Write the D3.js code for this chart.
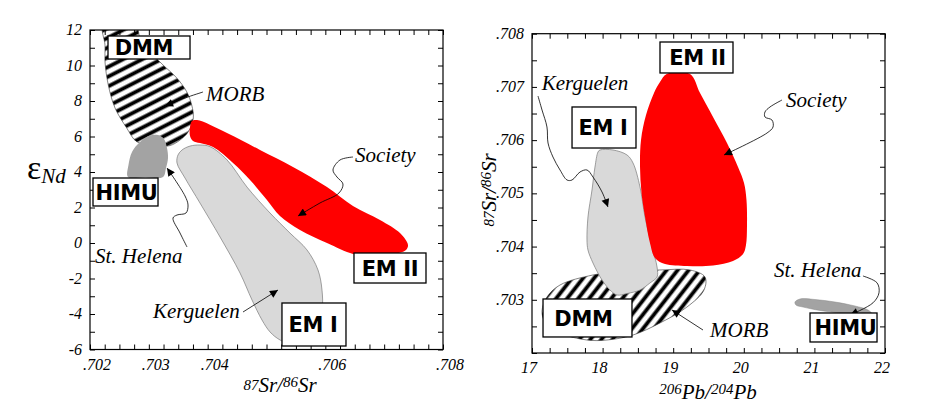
<!DOCTYPE html>
<html><head><meta charset="utf-8">
<script src="https://cdn.jsdelivr.net/npm/d3@7"></script>
<style>body{margin:0;background:#fff}</style>
</head><body><svg id="c" width="937" height="409"></svg>
<script>
// ---------------- data ----------------
const leftXTicks = [0.702, 0.703, 0.704, 0.706, 0.708];
const leftYTicks = [-6, -4, -2, 0, 2, 4, 6, 8, 10, 12];
const rightXTicks = [17, 18, 19, 20, 21, 22];
const rightYTicks = [0.703, 0.704, 0.705, 0.706, 0.707, 0.708];

// Left panel: 87Sr/86Sr vs eNd
const leftMORB = [[0.702221,12.23],[0.702255,11.15],[0.702255,10.21],[0.702311,8.90],[0.702425,7.61],[0.702624,6.48],[0.702794,5.71],[0.703134,5.46],[0.703360,5.49],[0.703530,5.80],[0.703671,6.27],[0.703756,7.04],[0.703729,7.77],[0.703644,8.52],[0.703474,9.30],[0.703241,10.03],[0.703020,10.78],[0.702850,11.55],[0.702794,12.11],[0.702510,12.23]];
const leftHIMU = [[0.702646,3.72],[0.702654,4.39],[0.702714,5.13],[0.702850,5.69],[0.703020,6.06],[0.703156,6.08],[0.703258,5.86],[0.703309,5.35],[0.703326,4.79],[0.703292,4.23],[0.703241,3.72],[0.702940,3.70]];
const leftSociety = [[0.703700,6.54],[0.703734,6.87],[0.703819,6.93],[0.704329,6.20],[0.704890,5.24],[0.705450,4.28],[0.706028,3.15],[0.706470,2.08],[0.706929,1.30],[0.707269,0.56],[0.707405,-0.11],[0.707371,-0.39],[0.707150,-0.62],[0.706708,-0.73],[0.706470,-0.62],[0.706028,0.00],[0.705569,0.73],[0.705229,1.52],[0.705008,2.42],[0.704720,3.55],[0.704431,4.51],[0.704091,5.41],[0.703870,5.63],[0.703751,5.75],[0.703700,6.03]];
const leftKerguelen = [[0.703496,4.96],[0.703564,5.24],[0.703700,5.46],[0.703870,5.52],[0.704040,5.43],[0.704329,4.68],[0.704669,3.15],[0.705060,1.69],[0.705399,0.56],[0.705688,-0.39],[0.705875,-1.52],[0.705943,-2.65],[0.705943,-3.77],[0.705824,-4.90],[0.705484,-5.75],[0.705229,-5.46],[0.705060,-5.01],[0.704924,-4.34],[0.704754,-3.21],[0.704550,-1.69],[0.704210,0.34],[0.703870,2.25],[0.703615,3.66],[0.703479,4.51]];

// Right panel: 206Pb/204Pb vs 87Sr/86Sr
const rightMORB = [[17.142,0.702789],[17.212,0.703052],[17.397,0.703278],[17.864,0.703466],[18.317,0.703541],[18.813,0.703560],[19.238,0.703560],[19.450,0.703428],[19.436,0.703184],[19.195,0.702864],[18.813,0.702564],[18.431,0.702338],[18.062,0.702244],[17.779,0.702244],[17.397,0.702376],[17.184,0.702583]];
const rightSociety = [[18.908,0.707243],[19.238,0.707243],[19.380,0.706886],[19.564,0.706435],[19.762,0.705946],[19.918,0.705495],[20.003,0.705195],[20.038,0.704875],[20.045,0.704368],[20.031,0.704030],[19.989,0.703860],[19.847,0.703729],[19.564,0.703644],[19.195,0.703635],[18.884,0.703672],[18.742,0.703785],[18.671,0.704067],[18.601,0.704556],[18.551,0.705007],[18.530,0.705495],[18.544,0.706003],[18.615,0.706472],[18.728,0.706886],[18.813,0.707092]];
const rightKerguelen = [[17.963,0.705815],[18.147,0.705815],[18.346,0.705721],[18.431,0.705570],[18.530,0.705119],[18.601,0.704556],[18.700,0.703992],[18.771,0.703616],[18.771,0.703428],[18.671,0.703316],[18.530,0.703184],[18.346,0.703118],[18.204,0.703090],[18.105,0.703184],[17.992,0.703372],[17.864,0.703691],[17.793,0.703935],[17.779,0.704123],[17.793,0.704556],[17.850,0.705063],[17.892,0.705495],[17.935,0.705777]];
const rightHIMU = [[20.725,0.702958],[20.796,0.703015],[21.008,0.703005],[21.292,0.702958],[21.575,0.702883],[21.759,0.702808],[21.816,0.702733],[21.646,0.702714],[21.363,0.702752],[21.079,0.702799],[20.839,0.702864],[20.739,0.702902]];

// end-member label boxes (data coords)
const leftBoxes = [
  {t:"DMM",  x0:0.702306, x1:0.703700, y0:11.662, y1:10.366, dx:-5},
  {t:"HIMU", x0:0.702051, x1:0.703156, y0:3.662,  y1:2.085,  dx:1},
  {t:"EM II",x0:0.706487, x1:0.707711, y0:-0.563, y1:-2.254, dx:0},
  {t:"EM I", x0:0.705263, x1:0.706351, y0:-3.380, y1:-5.803, dx:-1}];
const rightBoxes = [
  {t:"EM II",x0:18.813, x1:19.847, y0:0.707844, y1:0.707262, dx:1},
  {t:"EM I", x0:17.567, x1:18.473, y0:0.706623, y1:0.705852, dx:-1},
  {t:"DMM",  x0:17.156, x1:18.416, y0:0.703015, y1:0.702301, dx:-4},
  {t:"HIMU", x0:20.938, x1:21.887, y0:0.702752, y1:0.702207, dx:2}];

// italic annotations and leader lines (data coords)
const leftNotes = [
  {t:"MORB", x:0.703972, y:8.017},
  {t:"Society", x:0.706504, y:4.563},
  {t:"St. Helena", x:0.702085, y:-1.127},
  {t:"Kerguelen", x:0.703071, y:-4.225}];
const leftLeaders = [
  [[0.703921,8.507],[0.703615,8.17],[0.703275,7.72]],
  [[0.706470,4.845],[0.706249,4.676],[0.706130,4.113],[0.706198,3.718],[0.706300,3.324],[0.706232,2.817],[0.705909,2.254],[0.705535,1.521]],
  [[0.703649,-0.225],[0.703530,0.563],[0.703411,1.408],[0.703479,1.577],[0.703632,1.690],[0.703666,2.141],[0.703615,2.648],[0.703309,4.225]],
  [[0.704601,-3.887],[0.705195,-2.648]]];
const rightNotes = [
  {t:"Kerguelen", x:17.137, y:0.706942},
  {t:"Society", x:20.598, y:0.706623},
  {t:"MORB", x:19.521, y:0.702301},
  {t:"St. Helena", x:20.428, y:0.703428}];
const rightLeaders = [
  [[17.085,0.706829],[17.142,0.706566],[17.212,0.706247],[17.227,0.705946],[17.297,0.705683],[17.397,0.705439],[17.496,0.705251],[17.567,0.705251],[17.680,0.705401],[17.779,0.705439],[17.864,0.705306],[17.992,0.705025],[18.076,0.704743]],
  [[20.541,0.706754],[20.371,0.706623],[20.300,0.706529],[20.300,0.706435],[20.399,0.706378],[20.414,0.706247],[20.329,0.706134],[19.720,0.705721]],
  [[19.422,0.702432],[18.983,0.702808]],
  [[21.688,0.703447],[21.887,0.703319],[21.915,0.703131],[21.830,0.702943],[21.504,0.702714]]];

// ---------------- drawing ----------------
const SERIF = '"Liberation Serif"';
const BOLD = '"DejaVu Sans"';
const svg = d3.select("#c");
const defs = svg.append("defs");
function it(sel){ return sel.style("font-family", SERIF).style("font-style","italic"); }
function hatch(id, angle){
  const p = defs.append("pattern").attr("id", id).attr("patternUnits","userSpaceOnUse")
    .attr("width", 10).attr("height", 8.7).attr("patternTransform", `rotate(${angle})`);
  p.append("rect").attr("width",10).attr("height",8.7).attr("fill","#fff");
  p.append("rect").attr("y",2.4).attr("width",10).attr("height",3.8).attr("fill","#000");
}
hatch("hatchL", -27);
hatch("hatchR", -52);
defs.append("marker").attr("id","arr").attr("viewBox","0 0 10 10").attr("refX",10).attr("refY",5)
  .attr("markerUnits","userSpaceOnUse").attr("markerWidth",10).attr("markerHeight",8).attr("orient","auto")
  .append("path").attr("d","M0,0L10,5L0,10z").attr("fill","#000");

function panel(id, xs, ys, xMinor, yMinor, xLabels, yLabels, xFmt, yFmt, xLabDx, xLabDy, shapes, boxes, notes, leaders){
  const g = svg.append("g");
  const [X0,X1] = xs.range(), [Y0,Y1] = ys.range();
  defs.append("clipPath").attr("id","clip"+id).append("rect")
    .attr("x",X0).attr("y",Y1).attr("width",X1-X0).attr("height",Y0-Y1);
  const area = g.append("g").attr("clip-path",`url(#clip${id})`);
  const shp = d3.line().x(d=>xs(d[0])).y(d=>ys(d[1])).curve(d3.curveCatmullRomClosed.alpha(0.5));
  shapes.forEach(s=>{
    area.append("path").attr("d", shp(s.data)).attr("fill", s.fill)
      .attr("stroke", s.stroke || "none").attr("stroke-width", s.sw || 0.6);
  });
  const ld = d3.line().x(d=>xs(d[0])).y(d=>ys(d[1])).curve(d3.curveCatmullRom.alpha(0.5));
  leaders.forEach(l=>{
    g.append("path").attr("d", ld(l)).attr("fill","none").attr("stroke","#000")
      .attr("stroke-width",0.8).attr("marker-end","url(#arr)");
  });
  g.append("rect").attr("x",X0).attr("y",Y1).attr("width",X1-X0).attr("height",Y0-Y1)
    .attr("fill","none").attr("stroke","#000").attr("stroke-width",1.2);
  const tk = 5;
  g.append("g").attr("transform",`translate(0,${Y0})`).call(d3.axisBottom(xs).tickValues(xMinor).tickSize(-tk).tickFormat(""));
  g.append("g").attr("transform",`translate(0,${Y1})`).call(d3.axisTop(xs).tickValues(xMinor).tickSize(-tk).tickFormat(""));
  g.append("g").attr("transform",`translate(${X0},0)`).call(d3.axisLeft(ys).tickValues(yMinor).tickSize(-tk).tickFormat(""));
  g.append("g").attr("transform",`translate(${X1},0)`).call(d3.axisRight(ys).tickValues(yMinor).tickSize(-tk).tickFormat(""));
  g.selectAll(".domain").remove();
  g.selectAll(".tick line").attr("stroke","#000").attr("stroke-width",1);
  it(g.selectAll(".xl").data(xLabels).join("text").attr("x",d=>xs(d)+xLabDx).attr("y",Y0+xLabDy)
    .attr("text-anchor","middle").attr("font-size",16).text(xFmt));
  it(g.selectAll(".yl").data(yLabels).join("text").attr("x",X0-8).attr("y",d=>ys(d)+5)
    .attr("text-anchor","end").attr("font-size",16).text(yFmt));
  notes.forEach(n=>{
    it(g.append("text").attr("x",xs(n.x)).attr("y",ys(n.y)).attr("font-size",21).text(n.t));
  });
  boxes.forEach(b=>{
    const bx0 = xs(b.x0), bx1 = xs(b.x1), by0 = ys(b.y0), by1 = ys(b.y1);
    g.append("rect").attr("x",bx0).attr("y",by0).attr("width",bx1-bx0).attr("height",by1-by0)
      .attr("fill","#fff").attr("stroke","#000").attr("stroke-width",1.3);
    g.append("text").style("font-family",BOLD).style("font-weight","bold")
      .attr("x",(bx0+bx1)/2 + b.dx).attr("y",(by0+by1)/2 + 7.6)
      .attr("text-anchor","middle").attr("font-size",21).attr("letter-spacing",-0.3).text(b.t);
  });
  return g;
}

const strip0 = s => s.replace(/^0\./, ".");
const xL = d3.scaleLinear().domain([0.702, 0.708]).range([90, 443]);
const yL = d3.scaleLinear().domain([-6, 12]).range([349.5, 30]);
panel("L", xL, yL,
  d3.range(0, 25).map(i => 0.702 + i*0.00025), d3.range(-6, 13),
  leftXTicks, leftYTicks, d => strip0(d3.format(".3f")(d)), d => d3.format("d")(d).replace("−","-"),
  7, 20,
  [{data:leftMORB, fill:"url(#hatchL)", stroke:"#333", sw:0.6},
   {data:leftSociety, fill:"#ff0000"},
   {data:leftKerguelen, fill:"#d9d9d9", stroke:"#888", sw:0.8},
   {data:leftHIMU, fill:"#a3a3a3"}],
  leftBoxes, leftNotes, leftLeaders);

const xR = d3.scaleLinear().domain([17, 22]).range([532, 885]);
const yR = d3.scaleLinear().domain([0.702, 0.708]).range([353, 33.7]);
panel("R", xR, yR,
  d3.range(0, 21).map(i => 17 + i*0.25), d3.range(0, 13).map(i => 0.702 + i*0.0005),
  rightXTicks, rightYTicks, d => d3.format("d")(d), d => strip0(d3.format(".3f")(d)),
  -3, 20,
  [{data:rightMORB, fill:"url(#hatchR)", stroke:"#333", sw:0.6},
   {data:rightKerguelen, fill:"#d9d9d9", stroke:"#888", sw:0.8},
   {data:rightSociety, fill:"#ff0000"},
   {data:rightHIMU, fill:"#a3a3a3", stroke:"#888", sw:0.5}],
  rightBoxes, rightNotes, rightLeaders);

// axis titles
const tL = it(svg.append("text").attr("x", 280).attr("y", 392).attr("text-anchor","middle").attr("font-size",21));
tL.append("tspan").attr("font-size",15).attr("dy",-2).text("87");
tL.append("tspan").attr("dy",2).text("Sr/");
tL.append("tspan").attr("font-size",15).attr("dy",-5).text("86");
tL.append("tspan").attr("dy",5).text("Sr");

const yt = svg.append("text").attr("x", 27).attr("y", 179).style("font-family", SERIF);
yt.append("tspan").attr("font-size",34).text("ε");
yt.append("tspan").attr("font-size",21).style("font-style","italic").attr("dy",4).text("Nd");

const tR = it(svg.append("text").attr("x", 708).attr("y", 399).attr("text-anchor","middle").attr("font-size",21));
tR.append("tspan").attr("font-size",15).attr("dy",-5).text("206");
tR.append("tspan").attr("dy",5).text("Pb/");
tR.append("tspan").attr("font-size",15).attr("dy",-5).text("204");
tR.append("tspan").attr("dy",5).text("Pb");

const tRy = it(svg.append("text").attr("transform","translate(496,190) rotate(-90)").attr("text-anchor","middle").attr("font-size",21));
tRy.append("tspan").attr("font-size",15).attr("dy",-2).text("87");
tRy.append("tspan").attr("dy",2).text("Sr/");
tRy.append("tspan").attr("font-size",15).attr("dy",-5).text("86");
tRy.append("tspan").attr("dy",5).text("Sr");
</script></body></html>
